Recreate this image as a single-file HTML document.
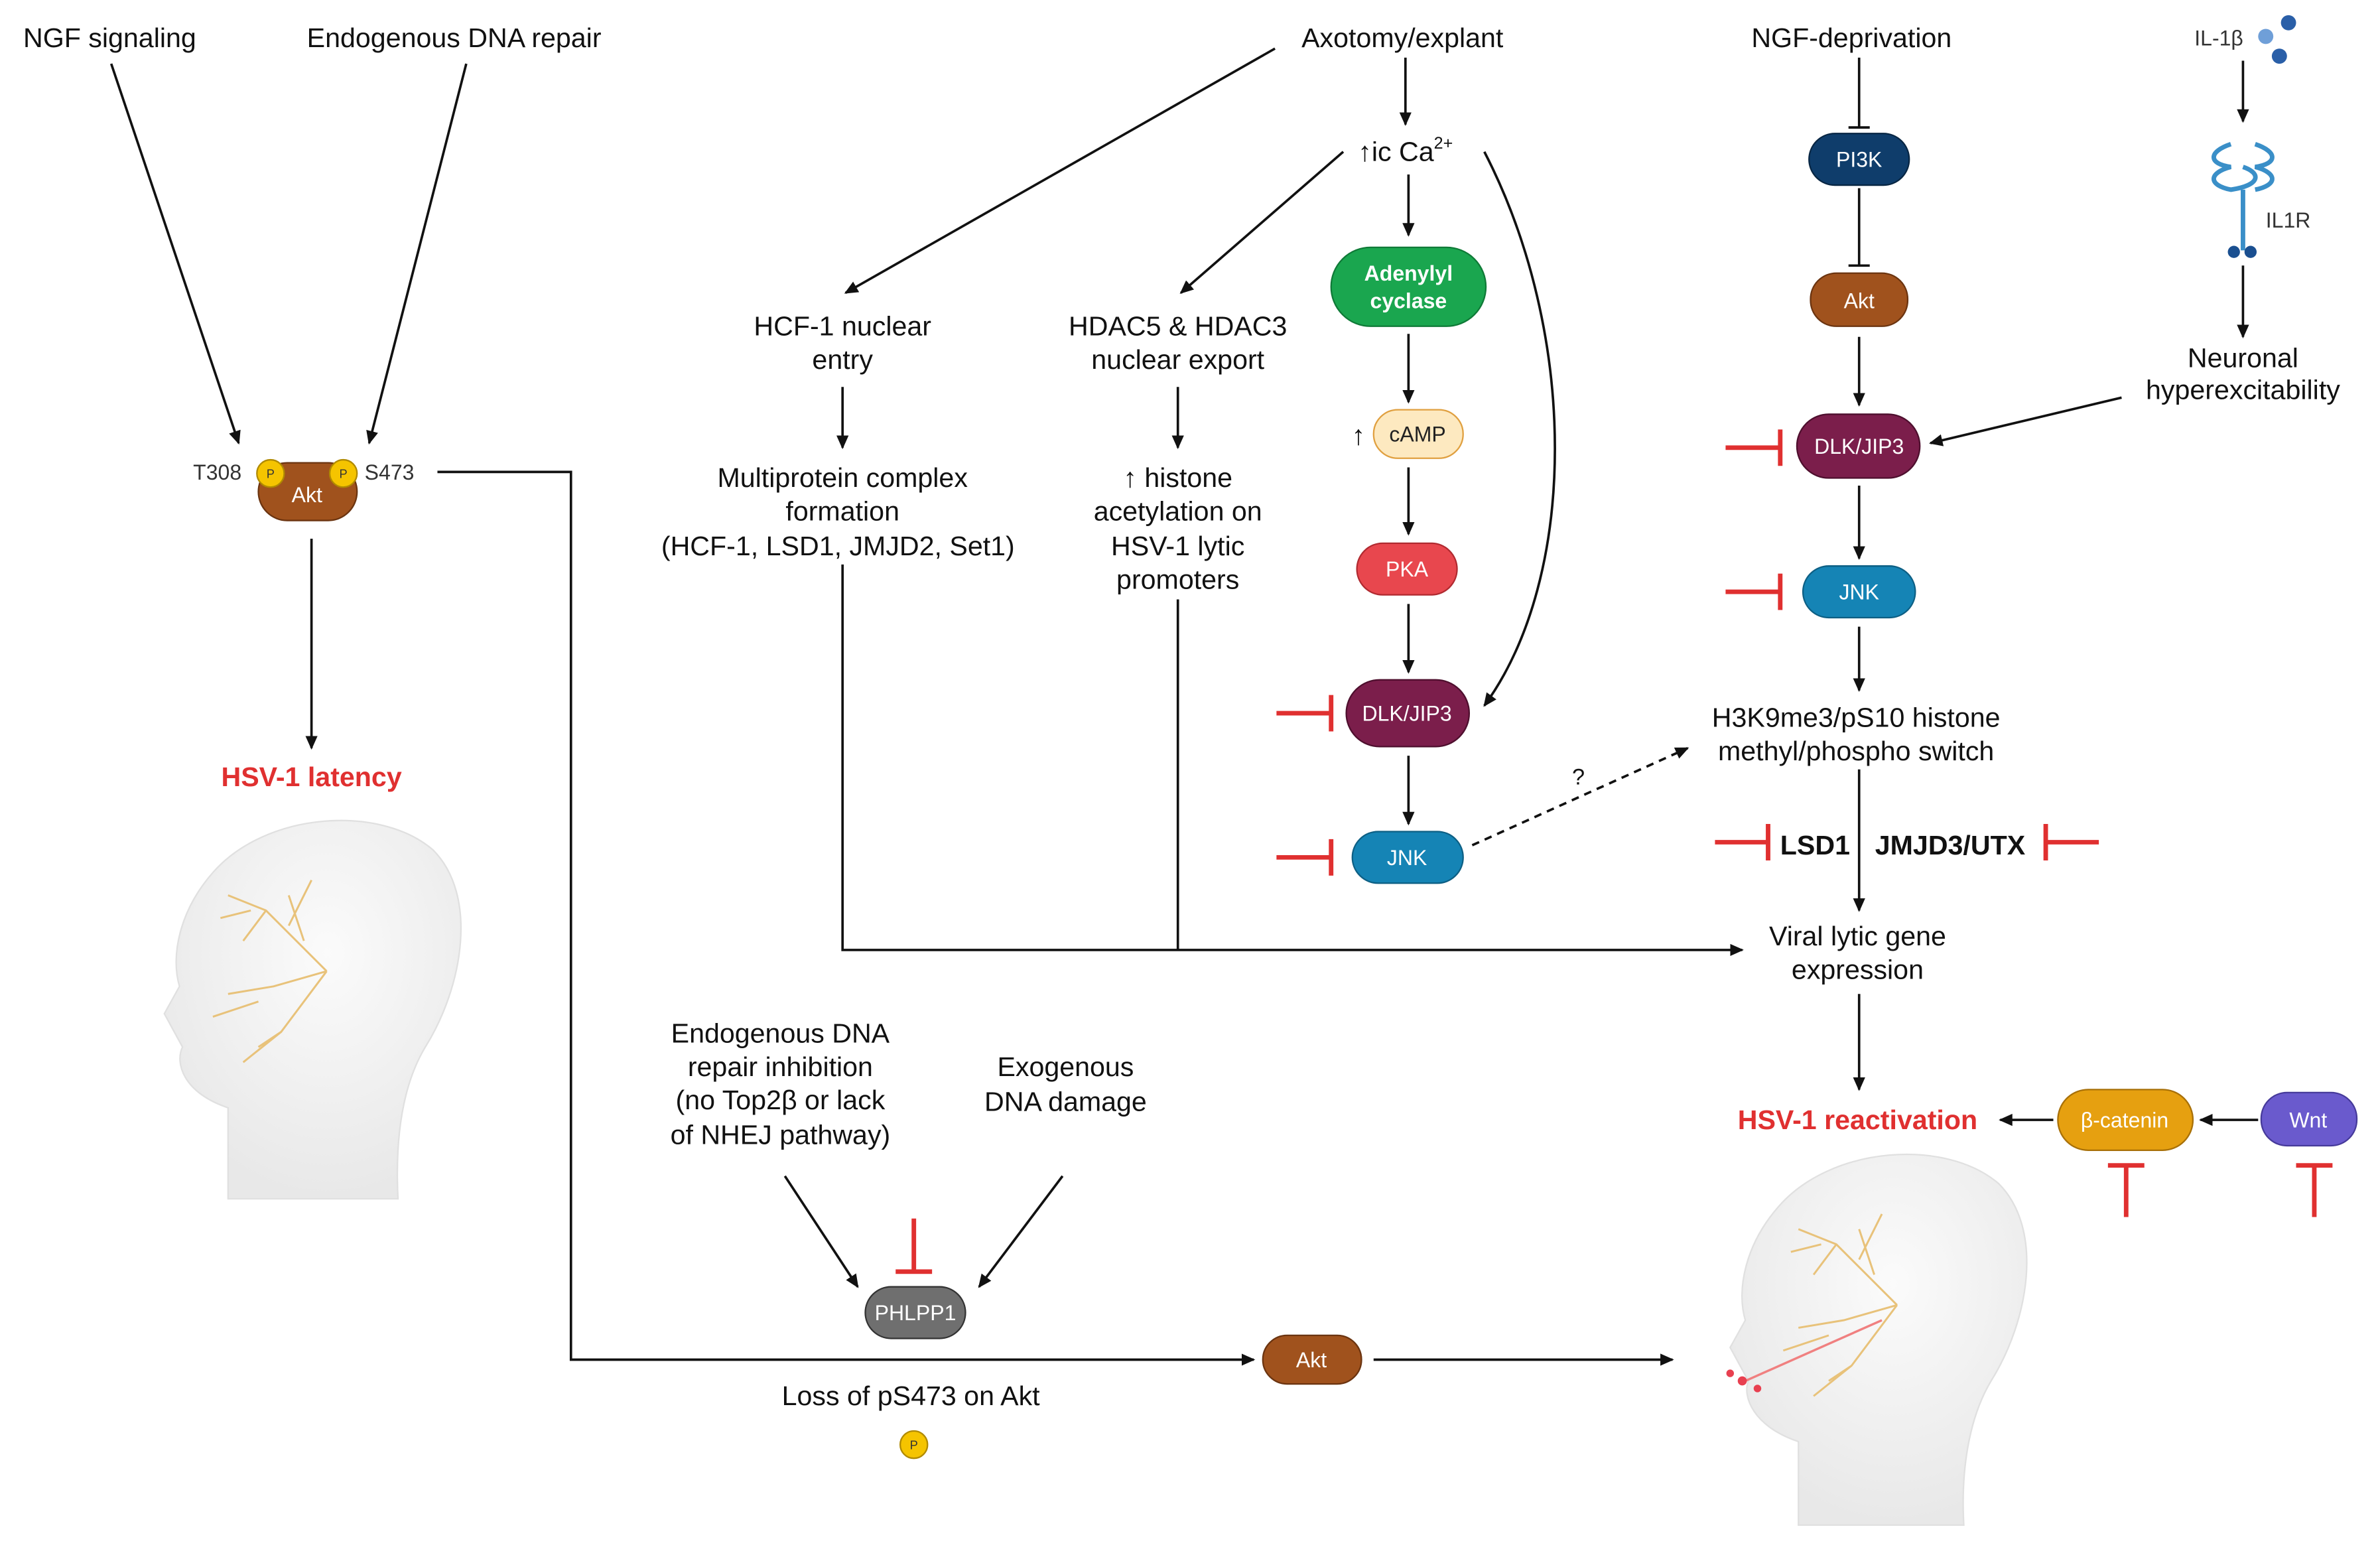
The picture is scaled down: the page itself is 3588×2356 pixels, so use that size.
<!DOCTYPE html>
<html><head><meta charset="utf-8"><style>
html,body{margin:0;padding:0;background:#fff;}
svg{display:block;}
text{font-family:"Liberation Sans",sans-serif;}
</style></head><body>
<svg width="3588" height="2356" viewBox="0 0 1568 1030" xmlns="http://www.w3.org/2000/svg">
<defs>
<marker id="a" markerWidth="10" markerHeight="10" refX="8" refY="5" orient="auto" markerUnits="userSpaceOnUse"><path d="M0,1 L9,5 L0,9 z" fill="#111"/></marker>
<radialGradient id="hg" cx="55%" cy="35%" r="65%"><stop offset="0" stop-color="#fbfbfb"/><stop offset="1" stop-color="#e8e8e8"/></radialGradient>
</defs>
<rect width="1568" height="1030" fill="#fff"/>
<g fill="none" stroke="#111" stroke-width="1.6">
<line x1="73" y1="42" x2="157" y2="292" marker-end="url(#a)"/>
<line x1="307" y1="42" x2="243" y2="292" marker-end="url(#a)"/>
<line x1="205" y1="355" x2="205" y2="493" marker-end="url(#a)"/>
<polyline points="288,311 376,311 376,896 826,896" marker-end="url(#a)"/>
<line x1="926" y1="38" x2="926" y2="82" marker-end="url(#a)"/>
<line x1="840" y1="32" x2="557" y2="193" marker-end="url(#a)"/>
<line x1="928" y1="115" x2="928" y2="155" marker-end="url(#a)"/>
<line x1="885" y1="100" x2="778" y2="193" marker-end="url(#a)"/>
<path d="M978,100 C1040,220 1040,380 978,465" marker-end="url(#a)"/>
<line x1="555" y1="255" x2="555" y2="295" marker-end="url(#a)"/>
<line x1="776" y1="255" x2="776" y2="295" marker-end="url(#a)"/>
<line x1="928" y1="220" x2="928" y2="265" marker-end="url(#a)"/>
<line x1="928" y1="308" x2="928" y2="352" marker-end="url(#a)"/>
<line x1="928" y1="398" x2="928" y2="443" marker-end="url(#a)"/>
<line x1="928" y1="498" x2="928" y2="543" marker-end="url(#a)"/>
<line x1="970" y1="557" x2="1112" y2="493" stroke-dasharray="5,4" marker-end="url(#a)"/>
<polyline points="555,372 555,626 1148,626" marker-end="url(#a)"/>
<line x1="776" y1="395" x2="776" y2="626"/>
<line x1="1225" y1="38" x2="1225" y2="84"/><line x1="1218" y1="84" x2="1232" y2="84"/>
<line x1="1225" y1="124" x2="1225" y2="175"/><line x1="1218" y1="175" x2="1232" y2="175"/>
<line x1="1225" y1="222" x2="1225" y2="267" marker-end="url(#a)"/>
<line x1="1225" y1="320" x2="1225" y2="368" marker-end="url(#a)"/>
<line x1="1225" y1="413" x2="1225" y2="455" marker-end="url(#a)"/>
<line x1="1225" y1="507" x2="1225" y2="600" marker-end="url(#a)"/>
<line x1="1225" y1="655" x2="1225" y2="718" marker-end="url(#a)"/>
<line x1="1353" y1="738" x2="1318" y2="738" marker-end="url(#a)"/>
<line x1="1488" y1="738" x2="1450" y2="738" marker-end="url(#a)"/>
<line x1="1478" y1="40" x2="1478" y2="80" marker-end="url(#a)"/>
<line x1="1478" y1="175" x2="1478" y2="222" marker-end="url(#a)"/>
<line x1="1398" y1="262" x2="1272" y2="292" marker-end="url(#a)"/>
<line x1="517" y1="775" x2="565" y2="848" marker-end="url(#a)"/>
<line x1="700" y1="775" x2="645" y2="848" marker-end="url(#a)"/>
<line x1="905" y1="896" x2="1102" y2="896" marker-end="url(#a)"/>
</g>
<g stroke="#e03030" stroke-width="3" fill="none">
<path d="M841,470 H877 M877,458 V482"/>
<path d="M841,565 H877 M877,553 V577"/>
<path d="M1137,295 H1173 M1173,283 V307"/>
<path d="M1137,390 H1173 M1173,378 V402"/>
<path d="M1130,555 H1165 M1165,543 V567"/>
<path d="M1383,555 H1348 M1348,543 V567"/>
<path d="M1401,802 V768 M1389,768 H1413"/>
<path d="M1525,802 V768 M1513,768 H1537"/>
<path d="M602,803 V838 M590,838 H614"/>
</g>
<!-- heads -->
<g>
<path d="M150,790 L150,730 C120,720 115,700 120,690 L108,668 L118,650 C112,630 118,600 140,575 C175,535 250,530 285,560 C315,590 305,650 280,690 C265,715 260,750 262,790 Z" fill="url(#hg)" stroke="#e0e0e0" stroke-width="1"/>
<path d="M1185,1005 L1185,950 C1155,940 1148,920 1152,910 L1140,888 L1150,870 C1144,850 1150,820 1172,795 C1207,755 1282,750 1317,780 C1347,810 1337,870 1312,910 C1297,935 1292,970 1294,1005 Z" fill="url(#hg)" stroke="#e0e0e0" stroke-width="1"/>
<g stroke="#e8c27a" stroke-width="1.3" fill="none">
<path d="M215,640 L175,600 L150,590 M175,600 L160,620 M215,640 L180,650 L150,655 M215,640 L185,680 L160,700 M185,680 L170,690 M200,620 L190,590 M190,610 L205,580 M170,660 L140,670 M165,600 L145,605"/>
<path d="M1250,860 L1210,820 L1185,810 M1210,820 L1195,840 M1250,860 L1215,870 L1185,875 M1250,860 L1220,900 L1195,920 M1220,900 L1205,910 M1235,840 L1225,810 M1225,830 L1240,800 M1205,880 L1175,890 M1200,820 L1180,825"/>
</g>
<path d="M1240,870 L1150,910" stroke="#f08080" stroke-width="1.5" fill="none"/>
<g fill="#e84050"><circle cx="1148" cy="910" r="3"/><circle cx="1140" cy="905" r="2.5"/><circle cx="1158" cy="915" r="2.5"/></g>
</g>
<!-- pills -->
<g font-size="14" text-anchor="middle" fill="#fff">
<rect x="170" y="305" width="65" height="38" rx="19" fill="#a0521d" stroke="#6b3410"/><text x="202" y="331">Akt</text>
<rect x="877" y="163" width="102" height="52" rx="26" fill="#1aa64f" stroke="#0f7a37"/><text x="928" y="185" font-weight="bold">Adenylyl</text><text x="928" y="203" font-weight="bold">cyclase</text>
<rect x="905" y="270" width="59" height="32" rx="16" fill="#fde9c0" stroke="#e0a040"/><text x="934" y="291" fill="#222">cAMP</text>
<rect x="894" y="358" width="66" height="34" rx="17" fill="#e8474e" stroke="#b02a30"/><text x="927" y="380">PKA</text>
<rect x="887" y="448" width="81" height="44" rx="22" fill="#7b1e4b" stroke="#4e0f2e"/><text x="927" y="475">DLK/JIP3</text>
<rect x="891" y="548" width="73" height="34" rx="17" fill="#1584b5" stroke="#0d5f84"/><text x="927" y="570">JNK</text>
<rect x="1192" y="88" width="66" height="34" rx="17" fill="#0f3d6b" stroke="#082643"/><text x="1225" y="110">PI3K</text>
<rect x="1193" y="180" width="64" height="35" rx="17" fill="#a0521d" stroke="#6b3410"/><text x="1225" y="203">Akt</text>
<rect x="1184" y="273" width="81" height="42" rx="21" fill="#7b1e4b" stroke="#4e0f2e"/><text x="1225" y="299">DLK/JIP3</text>
<rect x="1188" y="373" width="74" height="34" rx="17" fill="#1584b5" stroke="#0d5f84"/><text x="1225" y="395">JNK</text>
<rect x="1356" y="718" width="89" height="40" rx="20" fill="#e6a010" stroke="#a87008"/><text x="1400" y="743">β-catenin</text>
<rect x="1490" y="720" width="63" height="35" rx="17" fill="#6a5acd" stroke="#463a9a"/><text x="1521" y="743">Wnt</text>
<rect x="570" y="848" width="66" height="34" rx="17" fill="#6f6f6f" stroke="#333"/><text x="603" y="870">PHLPP1</text>
<rect x="832" y="880" width="65" height="32" rx="16" fill="#a0521d" stroke="#6b3410"/><text x="864" y="901">Akt</text>
</g>
<g fill="#f5c400" stroke="#b08a00"><circle cx="178" cy="312" r="9"/><circle cx="226" cy="312" r="9"/><circle cx="602" cy="952" r="9"/></g>
<g font-size="8" text-anchor="middle" fill="#333"><text x="178" y="315">P</text><text x="226" y="315">P</text><text x="602" y="955">P</text></g>
<!-- IL1 -->
<g fill="#2a5fa8"><circle cx="1508" cy="15" r="5"/><circle cx="1502" cy="37" r="5"/><circle cx="1493" cy="24" r="5" fill="#6f9fd8"/></g>
<g stroke="#3a8fc8" stroke-width="3" fill="none">
<path d="M1470,95 C1455,100 1455,108 1470,110 C1455,114 1455,122 1470,125 C1490,122 1490,114 1478,110"/>
<path d="M1486,95 C1501,100 1501,108 1486,110 C1501,114 1501,122 1486,125"/>
<line x1="1478" y1="125" x2="1478" y2="165"/>
</g>
<circle cx="1472" cy="166" r="4" fill="#1a4f90"/><circle cx="1483" cy="166" r="4" fill="#1a4f90"/>
<!-- text -->
<g font-size="18" fill="#111" text-anchor="middle">
<text x="72" y="31">NGF signaling</text>
<text x="299" y="31">Endogenous DNA repair</text>
<text x="924" y="31">Axotomy/explant</text>
<text x="926" y="106">↑ic Ca<tspan font-size="11" dy="-8">2+</tspan></text>
<text x="1220" y="31">NGF-deprivation</text>
<text x="555" y="221">HCF-1 nuclear</text><text x="555" y="243">entry</text>
<text x="776" y="221">HDAC5 &amp; HDAC3</text><text x="776" y="243">nuclear export</text>
<text x="555" y="321">Multiprotein complex</text><text x="555" y="343">formation</text><text x="552" y="366">(HCF-1, LSD1, JMJD2, Set1)</text>
<text x="776" y="321">↑ histone</text><text x="776" y="343">acetylation on</text><text x="776" y="366">HSV-1 lytic</text><text x="776" y="388">promoters</text>
<text x="895" y="293">↑</text>
<text x="1223" y="479">H3K9me3/pS10 histone</text><text x="1223" y="501">methyl/phospho switch</text>
<text x="1224" y="623">Viral lytic gene</text><text x="1224" y="645">expression</text>
<text x="1478" y="242">Neuronal</text><text x="1478" y="263">hyperexcitability</text>
<text x="514" y="687">Endogenous DNA</text><text x="514" y="709">repair inhibition</text><text x="514" y="731">(no Top2β or lack</text><text x="514" y="754">of NHEJ pathway)</text>
<text x="702" y="709">Exogenous</text><text x="702" y="732">DNA damage</text>
<text x="600" y="926">Loss of pS473 on Akt</text>
<text x="1040" y="517" font-size="15">?</text>
<text x="1196" y="563" font-weight="bold">LSD1</text><text x="1285" y="563" font-weight="bold">JMJD3/UTX</text>
<text x="205" y="518" fill="#e03030" font-weight="bold">HSV-1 latency</text>
<text x="1224" y="744" fill="#e03030" font-weight="bold">HSV-1 reactivation</text>
</g>
<g font-size="14" fill="#333">
<text x="127" y="316">T308</text><text x="240" y="316">S473</text>
<text x="1446" y="30">IL-1β</text><text x="1493" y="150">IL1R</text>
</g>
</svg>
</body></html>
